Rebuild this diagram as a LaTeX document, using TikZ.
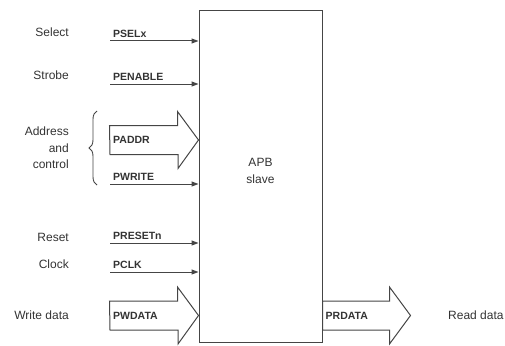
\documentclass[tikz,border=0pt]{standalone}
\usepackage{fontspec}
\setmainfont{Liberation Sans}
\usepackage{tikz}
\usetikzlibrary{positioning, arrows.meta, calc, decorations.pathreplacing}
\definecolor{ink}{HTML}{333333}
\definecolor{edge}{HTML}{454545}

\begin{document}
\begin{tikzpicture}[
    x=1pt, y=-1pt,
    font=\fontsize{12}{14}\selectfont, text=ink,
    slave/.style={rectangle, draw=edge, line width=1pt, minimum width=123pt, minimum height=331pt, inner sep=0pt},
    desc/.style={anchor=east, inner sep=0pt, align=right},
    sig/.style={inner sep=0pt, font=\fontsize{10.5}{12}\selectfont\bfseries},
    wire/.style={-{Triangle[length=7pt, width=5pt]}, draw=edge, line width=1pt},
    bus/.style={draw=edge, line width=1pt, line join=miter},
    brc/.style={decorate, decoration={brace, amplitude=8pt}, draw=edge, line width=0.9pt}
]
\useasboundingbox (0,0) rectangle (505,345);
\node[slave] (apb) at (260.5,176.5) {};
\node[align=center, font=\fontsize{12}{17}\selectfont] (apbtxt) at (260.5,171) {APB\\slave};

% single wires into the slave
\coordinate (psel) at (110,41);
\coordinate (pen) at (110,84);
\coordinate (pwr) at (110,184);
\coordinate (prst) at (110,243);
\coordinate (pclk) at (110,272);
\draw[wire] (psel) -- (psel -| apb.west);
\draw[wire] (pen) -- (pen -| apb.west);
\draw[wire] (pwr) -- (pwr -| apb.west);
\draw[wire] (prst) -- (prst -| apb.west);
\draw[wire] (pclk) -- (pclk -| apb.west);
\node[sig, above right=3.5pt and 3pt of psel] (pselx) {PSELx};
\node[sig, above right=3.5pt and 3pt of pen] (penable) {PENABLE};
\node[sig, above right=3.5pt and 3pt of pwr] (pwrite) {PWRITE};
\node[sig, above right=3.5pt and 3pt of prst] (presetn) {PRESETn};
\node[sig, above right=3.5pt and 3pt of pclk] (pclklbl) {PCLK};

% buses
\coordinate (paddr) at (110,140);
\coordinate (pwd) at (110,315.5);
\coordinate (prd) at (pwd -| apb.east);
\draw[bus] (paddr) ++(0,14.5) -- ++(68,0) -- ++(0,14) -- (paddr -| apb.west) -- ++(-21,-28.5) -- ++(0,14) -- ++(-68,0) -- cycle;
\draw[bus] (pwd) ++(0,14.5) -- ++(68,0) -- ++(0,14) -- (pwd -| apb.west) -- ++(-21,-28.5) -- ++(0,14) -- ++(-68,0) -- cycle;
\draw[bus] (prd) ++(0,14.5) -- ++(67,0) -- ++(0,14) -- ++(21,-28.5) -- ++(-21,-28.5) -- ++(0,14) -- ++(-67,0) -- cycle;
\node[sig, right=3pt of paddr] (paddrlbl) {PADDR};
\node[sig, right=3pt of pwd] (pwdlbl) {PWDATA};
\node[sig, right=3pt of prd] (prdlbl) {PRDATA};

% descriptions
\node[desc] (sel) at (69,32) {Select};
\node[desc] (strb) at (69,75) {Strobe};
\node[desc, font=\fontsize{12}{16.5}\selectfont] (adr) at (69,148) {Address\\and\\control};
\node[desc] (rst) at (69,237) {Reset};
\node[desc] (clk) at (69,264) {Clock};
\node[desc] (wrd) at (69,315.5) {Write data};
\node[desc, anchor=west] (rdd) at (448,315.5) {Read data};
\draw[brc] (97,185) -- (97,111);
\end{tikzpicture}
\end{document}
